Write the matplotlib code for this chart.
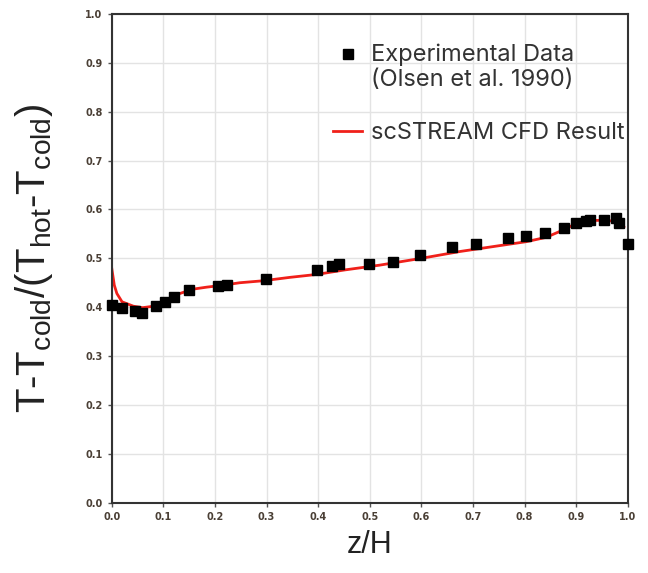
import numpy as np
import matplotlib.pyplot as plt
from matplotlib.ticker import MultipleLocator
from matplotlib.legend_handler import HandlerLine2D

# experimental data (Olsen et al. 1990)
exp_z = [0.0, 0.019, 0.046, 0.058, 0.085, 0.103, 0.121, 0.150, 0.206, 0.224,
         0.298, 0.397, 0.426, 0.440, 0.499, 0.545, 0.597, 0.660, 0.706, 0.768,
         0.803, 0.839, 0.876, 0.900, 0.919, 0.927, 0.953, 0.976, 0.983, 1.0]
exp_t = [0.404, 0.399, 0.392, 0.389, 0.403, 0.410, 0.420, 0.435, 0.443, 0.446,
         0.458, 0.477, 0.485, 0.488, 0.488, 0.492, 0.507, 0.524, 0.530, 0.541,
         0.546, 0.551, 0.561, 0.572, 0.577, 0.578, 0.578, 0.583, 0.573, 0.529]

# scSTREAM result
cfd_z = [0.0, 0.005, 0.01, 0.02, 0.042, 0.06, 0.081, 0.106, 0.132, 0.158,
         0.184, 0.216, 0.248, 0.293, 0.345, 0.397, 0.45, 0.519, 0.6, 0.675,
         0.739, 0.803, 0.842, 0.868, 0.894, 0.919, 0.955, 0.979, 0.992]
cfd_t = [0.480, 0.445, 0.428, 0.411, 0.402, 0.399, 0.402, 0.415, 0.428, 0.437,
         0.441, 0.445, 0.450, 0.454, 0.461, 0.467, 0.476, 0.486, 0.500, 0.514,
         0.524, 0.534, 0.543, 0.555, 0.568, 0.577, 0.578, 0.575, 0.564]

tick_color = '#4a3f35'
plt.rcParams['mathtext.fontset'] = 'custom'
plt.rcParams['mathtext.rm'] = 'Liberation Sans'


def raise_marker(legend_handle, orig_handle):
    # put the square next to the first line of the two-line label
    legend_handle.update_from(orig_handle)
    legend_handle.set_ydata(np.asarray(legend_handle.get_ydata()) + 10)


fig = plt.figure(figsize=(6.48, 5.73), dpi=100)
ax = fig.add_axes([0.1724, 0.1227, 0.7966, 0.853])

cfd_line, = ax.plot(cfd_z, cfd_t, color='#f0201a', lw=2, label='scSTREAM CFD Result', zorder=2)
exp_pts, = ax.plot(exp_z, exp_t, ls='none', marker='s', ms=7.5, color='black',
                   label='Experimental Data\n(Olsen et al. 1990)', zorder=3, clip_on=False)

ax.set_xlim(0, 1)
ax.set_ylim(0, 1)
ax.xaxis.set_major_locator(MultipleLocator(0.1))
ax.yaxis.set_major_locator(MultipleLocator(0.1))
ax.grid(color='#e3e3e3', lw=1)
ax.set_axisbelow(True)
for s in ax.spines.values():
    s.set_color('#333333')
    s.set_linewidth(1.5)
ax.tick_params(labelsize=7, colors='#555555', labelcolor=tick_color, length=3, width=1)
for lab in ax.get_xticklabels() + ax.get_yticklabels():
    lab.set_fontweight('bold')

ax.set_xlabel('z/H', fontsize=22, family='Liberation Sans', color='#222222', labelpad=6)
ax.set_ylabel(r'T-T$_{\mathrm{cold}}$/(T$_{\mathrm{hot}}$-T$_{\mathrm{cold}}$)',
              fontsize=29, family='Liberation Sans', color='#222222', labelpad=22)

leg = ax.legend([exp_pts, cfd_line], [exp_pts.get_label(), cfd_line.get_label()],
                loc='upper left', frameon=False,
                prop={'family': 'Inter', 'size': 17}, labelcolor='#333333',
                handlelength=1.25, handletextpad=0.35, labelspacing=1.3,
                borderpad=0, borderaxespad=0, bbox_to_anchor=(0.4286, 0.94),
                handler_map={exp_pts: HandlerLine2D(update_func=raise_marker)})

fig.savefig('out.png', dpi=100, facecolor='white')
